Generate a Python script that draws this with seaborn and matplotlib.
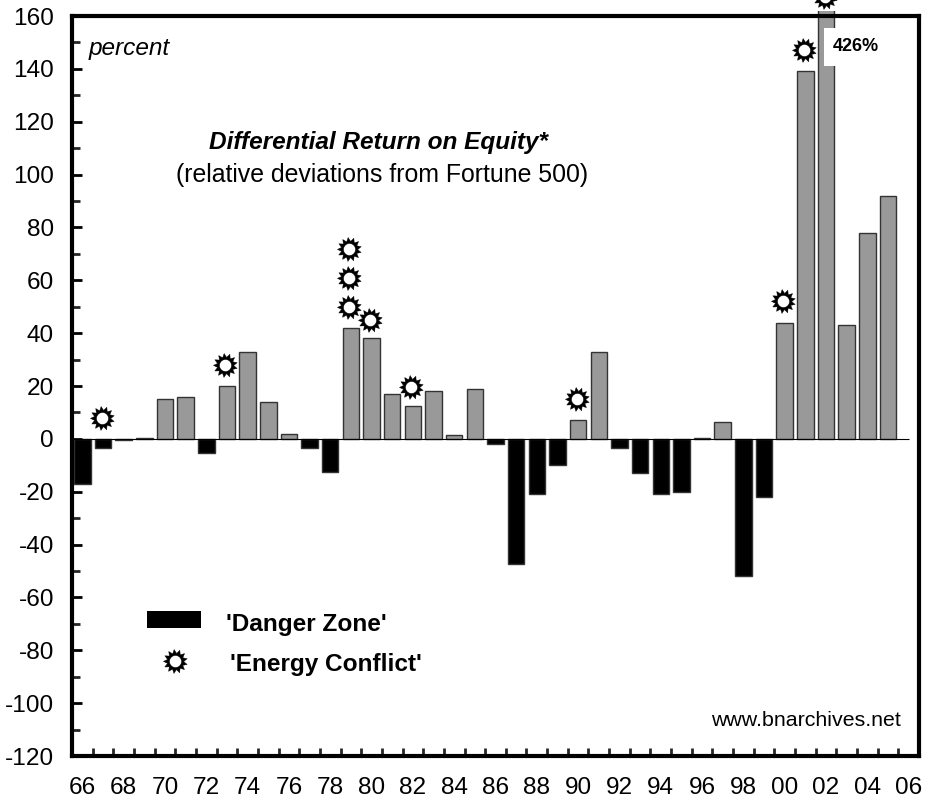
import numpy as np
import pandas as pd
import matplotlib
matplotlib.use("Agg")
import matplotlib.pyplot as plt
from matplotlib.path import Path
from matplotlib.patches import Rectangle
import seaborn as sns

years = [f"{y % 100:02d}" for y in range(1966, 2007)]
values = [-17, -3.5, -0.5, 0.3, 15, 16, -5.5, 20, 33, 14, 2, -3.5, -12.5, 42, 38, 17, 12.5, 18, 1.5, 19,
          -2, -47.5, -21, -10, 7, 33, -3.5, -13, -21, -20, 0.5, 6.5, -52, -22, 44, 139, 426, 43, 78, 92, np.nan]
conflict_years = ["67", "73", "79", "79", "79", "80", "82", "90", "00", "01", "02"]
conflict_levels = [8, 28, 50, 61, 72, 45, 19.5, 15, 52, 147, 167]
y_ticks = list(range(-120, 161, 20))

sns.set_theme(style="white")
plt.rcParams['font.family'] = ['Liberation Sans', 'DejaVu Sans']
plt.rcParams['axes.unicode_minus'] = False

W, H = 930, 805
FS = 17.6
fig = plt.figure(figsize=(W / 100, H / 100), dpi=100)
ax = fig.add_axes([72 / W, 1 - 756 / H, (919 - 72) / W, (756 - 16) / H])

df = pd.DataFrame({"year": years, "value": values})
df["zone"] = np.where(df["value"] < 0, "danger", "normal")
sns.barplot(data=df, x="year", y="value", hue="zone", order=years, dodge=False,
            palette={"danger": "#000000", "normal": "#999999"}, width=0.8,
            edgecolor="#333333", linewidth=1, legend=False, ax=ax, errorbar=None)

ax.set_xlim(-0.5, 40.5)
ax.set_ylim(-120, 160)
ax.set_xlabel("")
ax.set_ylabel("")

# the off-scale bar runs slightly over the frame
clip = Rectangle((-0.5, -120), 41, 282, transform=ax.transData)
for p in ax.patches:
    p.set_clip_path(clip)
    p.set_clip_on(True)

ax.hlines(0, -0.5, 40, color="black", lw=0.8, zorder=1.5)

for s in ax.spines.values():
    s.set_linewidth(3)
    s.set_color("black")
    s.set_zorder(2.2)

ax.set_yticks(y_ticks)
ax.set_yticks(range(-110, 160, 20), minor=True)
ax.tick_params(axis="y", which="major", direction="in", length=7.5, width=2, left=True, right=False,
               labelsize=FS, pad=13, colors="black")
ax.tick_params(axis="y", which="minor", direction="in", length=5.5, width=2, left=True, right=False)

pos = np.arange(len(years))
ax.set_xticks(pos[::2])
ax.set_xticklabels(years[::2])
ax.set_xticks(pos[:-1] + 0.5, minor=True)
ax.tick_params(axis="x", which="major", length=0, labelsize=FS, pad=15, colors="black")
ax.tick_params(axis="x", which="minor", direction="in", length=5.5, width=2, bottom=True, top=False)

# spiky hollow marker: black burst with a round hole
n = 13
ang = np.linspace(0, 2 * np.pi, 2 * n, endpoint=False) + 1.2
rad = np.where(np.arange(2 * n) % 2 == 0, 1.0, 0.68)
vx = rad * np.cos(ang)
vy = rad * np.sin(ang)
outer = Path(np.column_stack([np.append(vx, vx[0]), np.append(vy, vy[0])]), closed=True)
t = np.linspace(2 * np.pi, 0, 25)
hole = Path(np.column_stack([0.5 * np.cos(t), 0.5 * np.sin(t)]), closed=True)
star = Path.make_compound_path(outer, hole)

xpos = [years.index(y) - 0.07 for y in conflict_years]
ax.scatter(xpos, conflict_levels, marker=star, s=300, facecolor="black", edgecolor="black",
           linewidth=0.3, zorder=5, clip_on=False)

# break in the off-scale bar
ax.add_patch(Rectangle((35.9, 141), 2.0, 14.5, facecolor="white", edgecolor="none", zorder=4))
ax.text(37.45, 148.6, "426%", fontsize=13, fontweight="bold", ha="center", va="center", color="black", zorder=6)

ax.text(89 / W, 1 - 49 / H, "percent", transform=fig.transFigure, fontsize=FS, style="italic",
        ha="left", va="center", color="black")
ax.text(378 / W, 1 - 143 / H, "Differential Return on Equity*", transform=fig.transFigure, fontsize=FS,
        style="italic", fontweight="bold", ha="center", va="center", color="black")
ax.text(382 / W, 1 - 175 / H, "(relative deviations from Fortune 500)", transform=fig.transFigure, fontsize=17.9,
        ha="center", va="center", color="black")

# hand-placed legend
ax.add_patch(Rectangle((147 / W, 1 - 628 / H), 54 / W, 17 / H, transform=fig.transFigure,
                       facecolor="black", edgecolor="none", zorder=4))
ax.text(226 / W, 1 - 624 / H, "'Danger Zone'", transform=fig.transFigure, fontsize=FS, fontweight="bold",
        ha="left", va="center", color="black")
ax.scatter([175 / W], [1 - 661 / H], transform=fig.transFigure, marker=star, s=300, facecolor="black",
           edgecolor="black", linewidth=0.3, zorder=5)
ax.text(230 / W, 1 - 664 / H, "'Energy Conflict'", transform=fig.transFigure, fontsize=FS, fontweight="bold",
        ha="left", va="center", color="black")
ax.text(901 / W, 1 - 720 / H, "www.bnarchives.net", transform=fig.transFigure, fontsize=15.4,
        ha="right", va="center", color="black")

ax.set_xlim(-0.5, 40.5)
ax.set_ylim(-120, 160)
fig.savefig("out.png", dpi=100)
